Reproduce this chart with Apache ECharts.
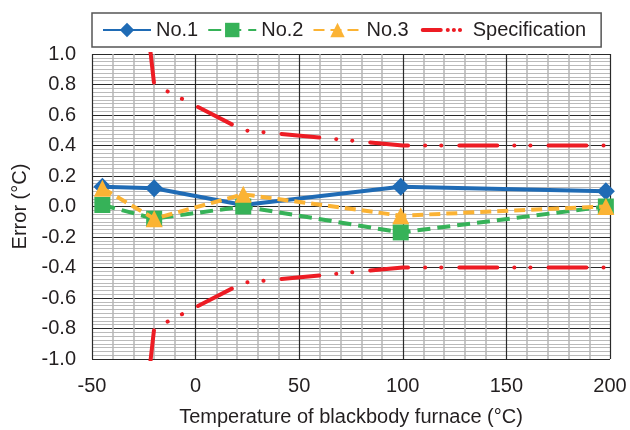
<!DOCTYPE html>
<html>
<head>
    <meta charset="UTF-8">
    <title>Error vs blackbody temperature</title>
    <style type="text/css">
        body{
            margin:0;
            padding:0;
            background-color:white;
        }
        #main{
            width:630px;
            height:430px;
        }
    </style>
</head>
<body>
<div id="main"></div>
<script src="https://cdn.jsdelivr.net/npm/echarts@6/dist/echarts.min.js"></script>
<script type="text/javascript">
    // temperatures of the measured points (°C)
    var temps = [-45, -20, 23, 99, 198];
    // errors of each unit (°C)
    var no1 = [0.13, 0.12, 0.01, 0.13, 0.10];
    var no2 = [0.01, -0.08, 0.0, -0.17, 0.0];
    var no3 = [0.12, -0.08, 0.08, -0.06, 0.0];
    // specification limit (upper side, lower side is the mirror)
    var specTemps = [-25, -20, 23, 100, 200];
    var specLimit = [1.4, 0.8, 0.5, 0.4, 0.4];

    var textColor = '#231f20';
    var font = 'Liberation Sans, Arial, sans-serif';

    function pairs(xs, ys, sign) {
        var out = [];
        for (var i = 0; i < xs.length; i++) {
            out.push([xs[i], (sign || 1) * ys[i]]);
        }
        return out;
    }

    var specStyle = {
        color: '#ed1c24',
        width: 4,
        cap: 'round',
        type: [38, 17, 0.1, 16, 0.1, 18],
        dashOffset: 37
    };

    var myChart = echarts.init(document.getElementById('main'));
    var option = {
        animation: false,
        textStyle: {fontFamily: font, color: textColor},
        grid: {left: 92, right: 20, top: 54, bottom: 71, outerBoundsMode: 'none'},
        legend: {
            left: 92,
            top: 13,
            padding: [7, 15, 7, 10],
            itemGap: 9,
            itemWidth: 48,
            itemHeight: 18,
            borderColor: '#555',
            borderWidth: 1.5,
            backgroundColor: '#fff',
            textStyle: {fontSize: 20, color: textColor, fontFamily: font},
            data: [
                'No.1',
                'No.2',
                'No.3',
                {
                    name: 'Specification',
                    itemStyle: {opacity: 0},
                    lineStyle: {width: 4, cap: 'round', type: [18, 7, 0.1, 6, 0.1, 6, 0.1, 40], dashOffset: -3}
                }
            ]
        },
        xAxis: {
            type: 'value',
            min: -50,
            max: 200,
            interval: 50,
            name: 'Temperature of blackbody furnace (°C)',
            nameLocation: 'middle',
            nameGap: 48,
            nameTextStyle: {fontSize: 20, color: textColor},
            axisLine: {show: false},
            axisTick: {show: false},
            axisLabel: {fontSize: 20, color: textColor, margin: 17},
            splitLine: {show: true, lineStyle: {color: '#2a2a2a', width: 1.2}},
            minorTick: {show: false, splitNumber: 5},
            minorSplitLine: {show: true, lineStyle: {color: '#b5b5b5', width: 1.5}}
        },
        yAxis: {
            type: 'value',
            min: -1,
            max: 1,
            interval: 0.2,
            name: 'Error (°C)',
            nameLocation: 'middle',
            nameGap: 62,
            nameTextStyle: {fontSize: 20, color: textColor},
            axisLine: {show: false},
            axisTick: {show: false},
            axisLabel: {
                fontSize: 20,
                color: textColor,
                margin: 16,
                formatter: function(v) { return v.toFixed(1); }
            },
            splitLine: {show: true, lineStyle: {color: '#2a2a2a', width: 1.2}},
            minorTick: {show: false, splitNumber: 8},
            minorSplitLine: {show: true, lineStyle: {color: '#bababa', width: 1}}
        },
        series: [
            {
                name: 'No.1',
                type: 'line',
                data: pairs(temps, no1),
                symbol: 'diamond',
                symbolSize: 18,
                itemStyle: {color: '#1f6bb5'},
                lineStyle: {color: '#1f6bb5', width: 4},
                z: 3
            },
            {
                name: 'No.2',
                type: 'line',
                data: pairs(temps, no2),
                symbol: 'rect',
                symbolSize: 16,
                itemStyle: {color: '#36b258'},
                lineStyle: {color: '#36b258', width: 4, type: [13, 7]},
                z: 4
            },
            {
                name: 'No.3',
                type: 'line',
                data: pairs(temps, no3),
                symbol: 'triangle',
                symbolSize: 17,
                itemStyle: {color: '#fbb334'},
                lineStyle: {color: '#fbb334', width: 4, type: [11, 6]},
                z: 5
            },
            {
                name: 'Specification',
                type: 'line',
                data: pairs(specTemps, specLimit, 1),
                symbol: 'none',
                itemStyle: {color: '#ed1c24'},
                lineStyle: specStyle,
                clip: true,
                z: 2
            },
            {
                name: 'Specification',
                type: 'line',
                data: pairs(specTemps, specLimit, -1),
                symbol: 'none',
                itemStyle: {color: '#ed1c24'},
                lineStyle: specStyle,
                clip: true,
                z: 2
            }
        ]
    };
    myChart.setOption(option);
</script>
</body>
</html>
